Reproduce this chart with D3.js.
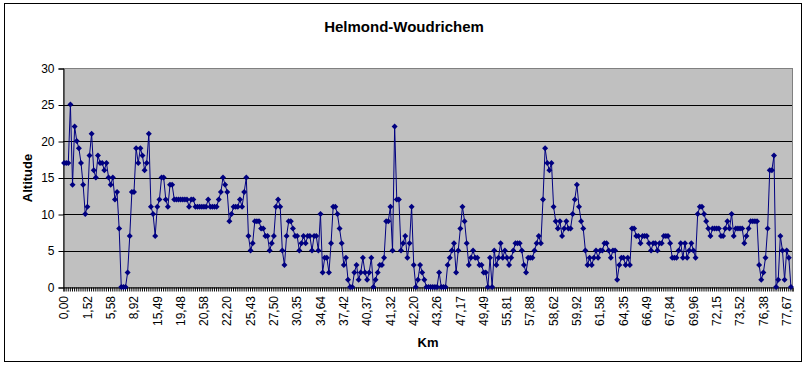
<!DOCTYPE html>
<html>
<head>
<meta charset="utf-8">
<script src="https://cdn.jsdelivr.net/npm/d3@7"></script>
<style>
body { margin: 0; background: #fff; }
text { font-family: 'Liberation Sans', Arial, sans-serif; fill: #000; }
</style>
</head>
<body>
<div id="chart"></div>
<script>
// altitude (m) per track point
var altitude = [
  17,17,17,25,14,22,20,19,17,14,10,11,18,21,16,15,18,17,17,16,17,15,14,15,12,13,8,0,0,0,
  2,7,13,13,19,17,19,18,16,17,21,11,10,7,11,12,15,15,12,11,14,14,
  12,12,12,12,12,12,12,
  11,12,12,11,11,11,11,11,11,12,11,11,11,11,12,
  13,15,14,13,9,10,11,11,11,12,11,13,15,7,5,6,9,9,9,8,8,7,7,5,6,7,11,12,
  11,5,3,7,9,9,8,7,7,5,6,7,6,7,7,5,7,7,5,10,2,4,4,2,6,11,11,10,8,6,
  3,4,1,0,0,2,3,1,2,4,2,1,2,4,0,1,2,3,3,4,9,9,11,5,22,12,12,5,6,7,
  4,6,11,3,0,1,3,2,1,0,0,0,0,0,0,2,0,0,0,3,4,5,6,2,5,8,11,9,6,3,
  4,5,4,4,3,3,2,2,0,4,0,5,3,4,6,4,5,4,3,4,5,6,6,6,5,3,2,4,4,4,
  5,6,7,6,
  12,19,17,16,17,11,9,8,9,7,8,9,8,8,10,12,14,11,9,8,5,3,4,3,4,5,4,5,5,6,
  6,5,4,5,5,1,3,4,4,3,4,3,8,8,7,7,6,7,7,7,6,5,6,6,5,6,6,7,7,7,
  6,4,4,4,5,6,4,6,4,5,6,5,4,10,11,11,10,9,8,7,8,8,8,8,7,7,8,9,8,10,
  7,8,8,8,8,6,7,8,9,9,9,9,3,1,2,4,8,16,16,18,0,1,7,5,1,5,4,0
]

// km labels shown on every 11th point
var kmLabels = ['0,00','1,52','5,58','8,92','15,49','19,48','20,58','22,20','25,43','27,50',
  '30,35','34,64','37,42','40,37','41,32','42,20','43,26','47,17','49,49','55,81',
  '57,88','58,62','59,92','61,58','64,35','66,49','67,84','69,96','72,15','73,52',
  '76,38','77,67']
var labelEvery = 11
var yTicks = [0, 5, 10, 15, 20, 25, 30]

var W = 807,
    H = 368,
    pl = 63,
    pt = 68,
    pr = 792,
    pb = 287

var svg = d3.select('#chart')
    .append('svg')
    .attr('width', W)
    .attr('height', H)

// chart frame
svg.append('rect')
    .attr('x', 4.5)
    .attr('y', 3.5)
    .attr('width', 797)
    .attr('height', 358)
    .attr('fill', '#fff')
    .attr('stroke', '#000')

var n = altitude.length
var x = d3.scaleBand()
    .domain(d3.range(n))
    .range([pl, pr])
var xEdge = d3.scaleLinear()
    .domain([0, n])
    .range([pl, pr])
var y = d3.scaleLinear()
    .domain([0, 30])
    .range([pb, pt])

// plot area
svg.append('rect')
    .attr('x', pl + 0.5)
    .attr('y', pt + 0.5)
    .attr('width', pr - pl)
    .attr('height', pb - pt)
    .attr('fill', '#c0c0c0')
    .attr('stroke', '#808080')

// gridlines
svg.append('g')
    .selectAll('line')
    .data(yTicks.filter(d => d > 0 && d < 30))
    .enter()
    .append('line')
    .attr('x1', pl)
    .attr('x2', pr)
    .attr('y1', d => Math.round(y(d)) + 0.5)
    .attr('y2', d => Math.round(y(d)) + 0.5)
    .attr('stroke', '#000')

// y axis
var yaxis = d3.axisLeft(y)
    .tickValues(yTicks)
    .tickSize(5)
    .tickPadding(4)
svg.append('g')
    .attr('transform', `translate(${pl + 0.5}, 0.5)`)
    .call(yaxis)
    .call(g => g.selectAll('text').style('font-size', '12px').style('font-family', null))
    .call(g => g.select('.domain').attr('stroke', '#000'))

// x axis ticks between categories
var xticks = d3.axisBottom(xEdge)
    .tickValues(d3.range(n + 1))
    .tickSize(4)
    .tickFormat('')
svg.append('g')
    .attr('transform', `translate(0.5, ${pb + 0.5})`)
    .call(xticks)
    .call(g => g.selectAll('line').attr('stroke', '#000'))
    .call(g => g.select('.domain').attr('stroke', '#000'))

// x labels (rotated)
svg.append('g')
    .selectAll('text')
    .data(kmLabels)
    .enter()
    .append('text')
    .text(d => d)
    .attr('transform', (d, i) => `translate(${x(i * labelEvery) + x.bandwidth() / 2}, 296) rotate(-90)`)
    .attr('text-anchor', 'end')
    .attr('dy', '0.35em')
    .style('font-size', '12px')

// line + markers
var line = d3.line()
    .x((d, i) => x(i) + x.bandwidth() / 2)
    .y(d => y(d))
svg.append('path')
    .datum(altitude)
    .attr('d', line)
    .attr('fill', 'none')
    .attr('stroke', '#000080')
    .attr('stroke-width', 1)

svg.append('g')
    .selectAll('path')
    .data(altitude)
    .enter()
    .append('path')
    .attr('d', 'M0,-3L3,0L0,3L-3,0Z')
    .attr('transform', (d, i) => `translate(${x(i) + x.bandwidth() / 2}, ${y(d)})`)
    .attr('fill', '#000080')

// titles
svg.append('text')
    .text('Helmond-Woudrichem')
    .attr('text-anchor', 'middle')
    .attr('x', 404)
    .attr('y', 32)
    .style('font-size', '15px')
    .style('font-weight', 'bold')

svg.append('text')
    .text('Altitude')
    .attr('text-anchor', 'middle')
    .attr('transform', 'translate(32, 178) rotate(-90)')
    .style('font-size', '13px')
    .style('font-weight', 'bold')

svg.append('text')
    .text('Km')
    .attr('text-anchor', 'middle')
    .attr('x', 428)
    .attr('y', 347)
    .style('font-size', '13px')
    .style('font-weight', 'bold')
</script>
</body>
</html>
